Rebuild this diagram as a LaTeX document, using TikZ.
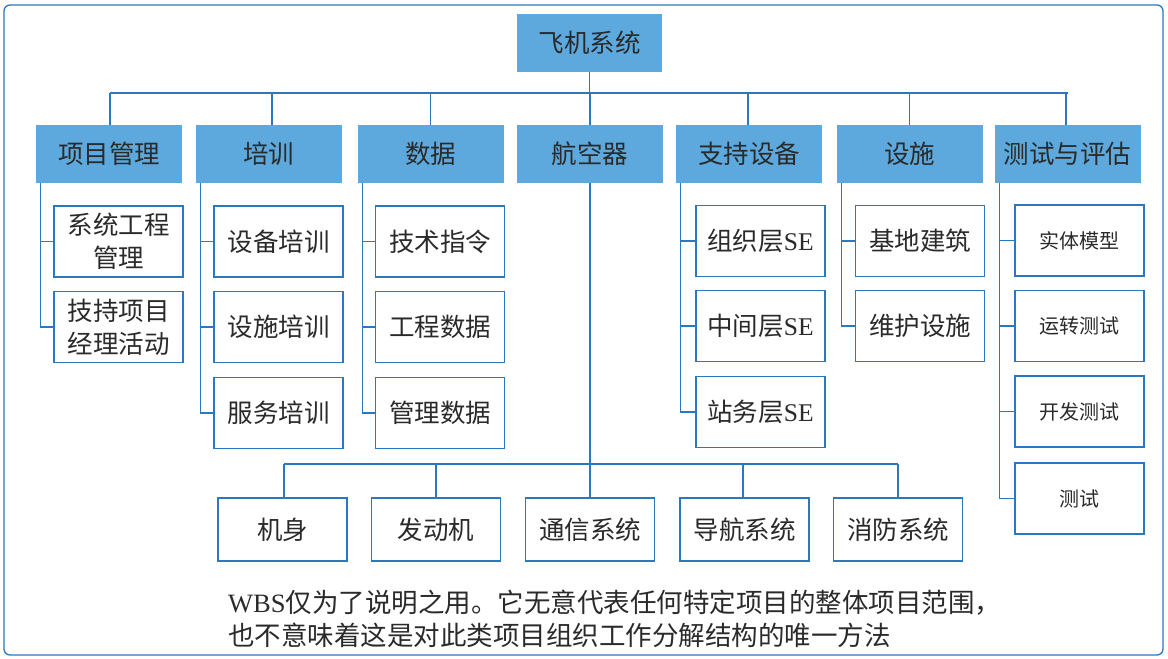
\documentclass[tikz,border=0pt]{standalone}
\usepackage{fontspec}
\setmainfont{Noto Sans CJK SC}
\newfontfamily\latinserif{Liberation Serif}
\definecolor{hdrfill}{HTML}{5DA9DD}
\definecolor{linec}{HTML}{2B78BE}
\definecolor{txt}{HTML}{2A2A2A}
\begin{document}
\begin{tikzpicture}[x=1pt,y=-1pt,
  hdr/.style={fill=hdrfill,draw=none,minimum width=146pt,minimum height=58pt,inner sep=0pt,text=txt,font=\fontsize{25.5}{30}\selectfont},
  sub/.style={draw=linec,line width=1.6pt,fill=white,minimum width=129pt,minimum height=71pt,inner sep=0pt,text=txt,align=center,font=\fontsize{25.5}{33}\selectfont},
  subs/.style={sub,font=\fontsize{20}{24}\selectfont},
  low/.style={sub,minimum width=129pt,minimum height=63pt},
  conn/.style={draw=linec,line width=1.3pt}]
\useasboundingbox (0,0) rectangle (1168,659);
\draw[linec,line width=1.3pt,rounded corners=6pt] (4,5) rectangle (1163,655);
% top
\node[hdr,minimum width=145pt] (top) at (589.5,43) {飞机系统};
% headers
\node[hdr] (h1) at (109,154) {项目管理};
\node[hdr] (h2) at (268.5,154) {培训};
\node[hdr] (h3) at (430.5,154) {数据};
\node[hdr] (h4) at (590,154) {航空器};
\node[hdr] (h5) at (749,154) {支持设备};
\node[hdr] (h6) at (909.5,154) {设施};
\node[hdr] (h7) at (1067.5,154) {测试与评估};
% bus
\coordinate (bus) at (0,93);
\draw[conn] (top.south) -- (top.south |- bus);
\draw[conn] ([xshift=1pt]h1.north |- bus) -- (h7.north |- bus);
\foreach \h/\dx in {h1/1,h2/3.5,h3/0,h5/-1,h6/0,h7/-1.5}{
  \draw[conn] ([xshift=\dx pt]\h.north) -- ([xshift=\dx pt]\h.north |- bus);
}
\draw[conn] (h4.north) -- (h4.north |- bus);
% column 1
\node[sub] (s11) at (118.5,241.5) {系统工程\\管理};
\node[sub] (s12) at (118.5,327) {技持项目\\经理活动};
% column 2
\node[sub] (s21) at (278.5,241.5) {设备培训};
\node[sub] (s22) at (278.5,327) {设施培训};
\node[sub] (s23) at (278.5,413) {服务培训};
% column 3
\node[sub] (s31) at (440,241.5) {技术指令};
\node[sub] (s32) at (440,327) {工程数据};
\node[sub] (s33) at (440,413) {管理数据};
% column 5
\node[sub] (s51) at (760.5,241) {组织层{\latinserif SE}};
\node[sub] (s52) at (760.5,326) {中间层{\latinserif SE}};
\node[sub] (s53) at (760.5,412) {站务层{\latinserif SE}};
% column 6
\node[sub] (s61) at (920,241) {基地建筑};
\node[sub] (s62) at (920,326) {维护设施};
% column 7
\node[subs] (s71) at (1079.5,240.5) {实体模型};
\node[subs] (s72) at (1079.5,326) {运转测试};
\node[subs] (s73) at (1079.5,411.5) {开发测试};
\node[subs] (s74) at (1079.5,498.5) {测试};
% column connectors
\foreach \h/\s in {h1/s11,h1/s12,h2/s21,h2/s22,h2/s23,h3/s31,h3/s32,h3/s33,h5/s51,h5/s52,h5/s53,h6/s61,h6/s62,h7/s71,h7/s72,h7/s73,h7/s74}{
  \draw[conn] ([xshift=5pt]\h.south west) |- (\s.west);
}
% aircraft children
\node[low] (b1) at (282.5,529.5) {机身};
\node[low] (b2) at (436,529.5) {发动机};
\node[low] (b3) at (590,529.5) {通信系统};
\node[low] (b4) at (744.5,529.5) {导航系统};
\node[low] (b5) at (898,529.5) {消防系统};
\coordinate (bus2) at (0,464);
\draw[conn] (h4.south) -- (b3.north);
\draw[conn] ([xshift=1.5pt]b1.north |- bus2) -- (b5.north |- bus2);
\foreach \b/\dx in {b1/1.5,b2/0,b4/-1.5,b5/0}{
  \draw[conn] ([xshift=\dx pt]\b.north) -- ([xshift=\dx pt]\b.north |- bus2);
}
% footnote
\node[anchor=west,align=left,inner sep=0pt,text=txt,font=\fontsize{26.5}{33}\selectfont] (note) at (228,619)
  {{\latinserif WBS}仅为了说明之用。它无意代表任何特定项目的整体项目范围，\\也不意味着这是对此类项目组织工作分解结构的唯一方法};
\end{tikzpicture}
\end{document}
